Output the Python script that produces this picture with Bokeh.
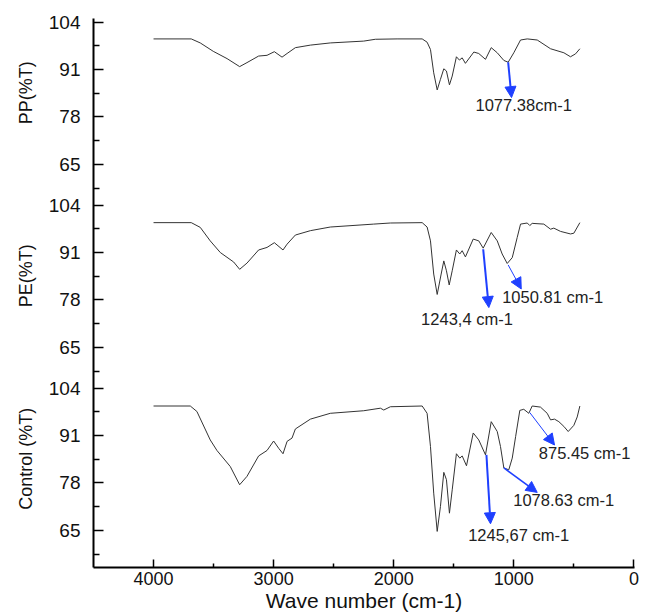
import math
from bokeh.plotting import figure
from bokeh.layouts import row
from bokeh.models import Range1d, FixedTicker, Arrow, NormalHead, Label
from bokeh.core.properties import value
from bokeh.embed import file_html
from bokeh.resources import INLINE

# ---------------- data ----------------
series_names = ["PP(%T)", "PE(%T)", "Control (%T)"]

pp_wn = [4000, 3686, 3611, 3503, 3388, 3283, 3222, 3125, 3055, 2994, 2930, 2888, 2819, 2694, 2528,
         2250, 2153, 1972, 1763, 1722, 1694, 1667, 1638, 1611, 1583, 1561, 1536, 1513, 1478, 1453,
         1430, 1403, 1333, 1292, 1236, 1188, 1138, 1083, 1047, 1000, 944, 888, 805, 694, 583, 528,
         486, 450]
pp_t = [99.4, 99.4, 98.3, 96.0, 94.0, 91.8, 92.9, 94.7, 94.9, 95.9, 94.4, 95.4, 97.0, 97.7, 98.3,
        98.8, 99.3, 99.4, 99.4, 98.5, 96.5, 90.1, 85.4, 88.3, 91.2, 90.6, 86.8, 89.2, 94.5, 93.6,
        94.2, 92.7, 95.8, 95.4, 93.8, 97.0, 95.6, 93.5, 93.0, 95.6, 99.1, 99.4, 99.1, 96.7, 95.6, 94.5,
        95.3, 96.7]

pe_wn = [4000, 3686, 3611, 3528, 3444, 3333, 3283, 3222, 3125, 3055, 2994, 2922, 2888, 2819, 2694,
         2528, 2167, 2028, 1763, 1722, 1694, 1667, 1638, 1605, 1583, 1561, 1538, 1513, 1478, 1450,
         1430, 1403, 1338, 1292, 1255, 1188, 1138, 1097, 1055, 1013, 972, 944, 888, 867, 847, 750,
         694, 667, 611, 528, 500, 450]
pe_t = [99.2, 99.2, 97.9, 94.2, 91.0, 88.4, 86.4, 88.1, 91.7, 92.4, 93.7, 91.7, 93.3, 95.8, 97.0,
        98.0, 98.8, 99.1, 99.2, 98.0, 94.2, 85.1, 79.5, 85.1, 88.7, 86.0, 82.1, 86.0, 91.7, 90.6,
        91.5, 89.8, 94.7, 94.2, 92.2, 96.5, 94.2, 90.6, 88.0, 89.6, 95.1, 98.8, 99.1, 98.4, 99.0, 98.8,
        97.4, 97.7, 96.8, 96.1, 96.3, 99.2]

ctrl_wn = [4000, 3694, 3639, 3528, 3472, 3361, 3283, 3222, 3125, 3055, 3000, 2958, 2922, 2888, 2847,
           2819, 2694, 2528, 2250, 2111, 2083, 2028, 1763, 1722, 1694, 1667, 1638, 1611, 1583, 1561,
           1536, 1513, 1478, 1450, 1430, 1394, 1338, 1292, 1236, 1188, 1138, 1111, 1083, 1042, 1013,
           985, 950, 917, 875, 847, 778, 722, 694, 661, 625, 583, 547, 500, 472, 450]
ctrl_t = [99.1, 99.1, 97.6, 89.8, 86.9, 82.5, 77.5, 79.8, 85.4, 86.9, 89.5, 87.5, 86.0, 89.4, 90.3,
          92.8, 95.5, 97.1, 97.8, 98.5, 98.0, 98.9, 99.1, 97.1, 88.0, 75.2, 64.7, 71.5, 80.9, 78.9,
          69.7, 76.1, 86.0, 84.8, 85.4, 82.7, 91.7, 89.8, 85.7, 94.8, 92.1, 88.0, 82.1, 81.6, 84.8,
          90.7, 97.9, 98.2, 97.1, 99.1, 98.8, 97.1, 95.3, 95.5, 94.8, 93.5, 92.1, 93.8, 96.1, 99.1]

# peak annotations: (text, arrow start wn, start %T, arrow end wn, end %T, label wn, label %T, line width)
pp_peaks = [("1077.38cm-1", 1047, 93.0, 1019, 83.3, 1319, 81.2, 2)]
pe_peaks = [("1243,4 cm-1", 1255, 91.9, 1208, 75.9, 1772, 72.7, 2),
            ("1050.81 cm-1", 1047, 87.6, 938, 81.0, 1097, 78.7, 1)]
ctrl_peaks = [("875.45 cm-1", 867, 97.3, 661, 88.4, 792, 86.3, 1),
              ("1078.63 cm-1", 1083, 82.1, 805, 75.4, 1005, 73.4, 1.5),
              ("1245,67 cm-1", 1228, 85.7, 1194, 66.8, 1380, 63.6, 2)]

y_ticks = [65, 78, 91, 104]
y_minor = [58.5, 71.5, 84.5, 97.5]
x_ticks = [0, 1000, 2000, 3000, 4000]
x_minor = [500, 1500, 2500, 3500]
x_title = "Wave number (cm-1)"

# ---------------- layout / styling ----------------
FONT = "Liberation Sans"
BLUE = "#1f40ff"
Y_LO, SPAN = 54.8, 50.2          # each stacked layer covers 50.2 %T units
LABEL_T = 84.6                   # %T level where each layer's title is centred
offsets = [2 * SPAN, SPAN, 0.0]  # PP on top, PE middle, Control at the bottom
TOP, BOTTOM, HEIGHT = 18, 49, 616
TITLE_W = 38
TOTAL_W = 645

# narrow strip on the left that carries the rotated layer titles
ps = figure(width=TITLE_W, height=HEIGHT, x_range=Range1d(0, TITLE_W),
            y_range=Range1d(Y_LO, Y_LO + 3 * SPAN), x_axis_type=None, y_axis_type=None,
            output_backend="svg", toolbar_location=None,
            min_border_left=0, min_border_right=0, min_border_top=TOP, min_border_bottom=BOTTOM)
ps.outline_line_color = None
ps.grid.visible = False
ps.text(x=[25] * 3, y=[LABEL_T + o for o in offsets], text=series_names, angle=math.pi / 2,
        text_font=value(FONT), text_font_size="18px", text_color="#111111",
        text_align="center", text_baseline="middle")

p = figure(width=TOTAL_W - TITLE_W, height=HEIGHT,
           x_range=Range1d(4500, -5), y_range=ps.y_range,
           output_backend="svg", toolbar_location=None,
           min_border_left=93 - TITLE_W, min_border_right=11,
           min_border_top=TOP, min_border_bottom=BOTTOM)
p.outline_line_color = None
p.grid.visible = False

ticks, minors, overrides = [], [], {}
for wn, t, peaks, off in zip([pp_wn, pe_wn, ctrl_wn], [pp_t, pe_t, ctrl_t],
                             [pp_peaks, pe_peaks, ctrl_peaks], offsets):
    p.line(wn, [v + off for v in t], line_color="#333333", line_width=1)
    for tk in y_ticks:
        ticks.append(tk + off)
        overrides[tk + off] = str(tk)
    minors += [m + off for m in y_minor]
    for (txt, xs, ys, xe, ye, lx, ly, lw) in peaks:
        p.add_layout(Arrow(x_start=xs, y_start=ys + off, x_end=xe, y_end=ye + off,
                           line_color=BLUE, line_width=lw,
                           end=NormalHead(size=11, fill_color=BLUE, line_color=BLUE, line_width=1)))
        p.add_layout(Label(x=lx, y=ly + off, text=txt, text_font=FONT, text_font_size="16.5px",
                           text_color="#222222", text_align="left", text_baseline="middle"))

ya = p.yaxis[0]
ya.ticker = FixedTicker(ticks=ticks, minor_ticks=minors)
ya.major_label_overrides = overrides
ya.major_label_text_font = FONT
ya.major_label_text_font_size = "19px"
ya.major_label_text_color = "#111111"
ya.major_label_standoff = 13
ya.axis_line_width = 2
ya.axis_line_color = "black"
ya.major_tick_in = 10
ya.major_tick_out = 0
ya.minor_tick_in = 6
ya.minor_tick_out = 0
ya.major_tick_line_width = 1.5
ya.minor_tick_line_width = 1.5

xa = p.xaxis[0]
xa.ticker = FixedTicker(ticks=x_ticks, minor_ticks=x_minor)
xa.axis_label = x_title
xa.axis_label_text_font = FONT
xa.axis_label_text_font_size = "21px"
xa.axis_label_text_font_style = "normal"
xa.axis_label_text_color = "#111111"
xa.axis_label_standoff = 1
xa.major_label_text_font = FONT
xa.major_label_text_font_size = "18px"
xa.major_label_text_color = "#111111"
xa.major_label_standoff = 4
xa.axis_line_width = 2
xa.axis_line_color = "black"
xa.major_tick_in = 8
xa.major_tick_out = 0
xa.minor_tick_in = 4
xa.minor_tick_out = 0
xa.major_tick_line_width = 1.5
xa.minor_tick_line_width = 1.5

layout = row(ps, p, spacing=0)
open("out.html", "w").write(file_html(layout, INLINE))
